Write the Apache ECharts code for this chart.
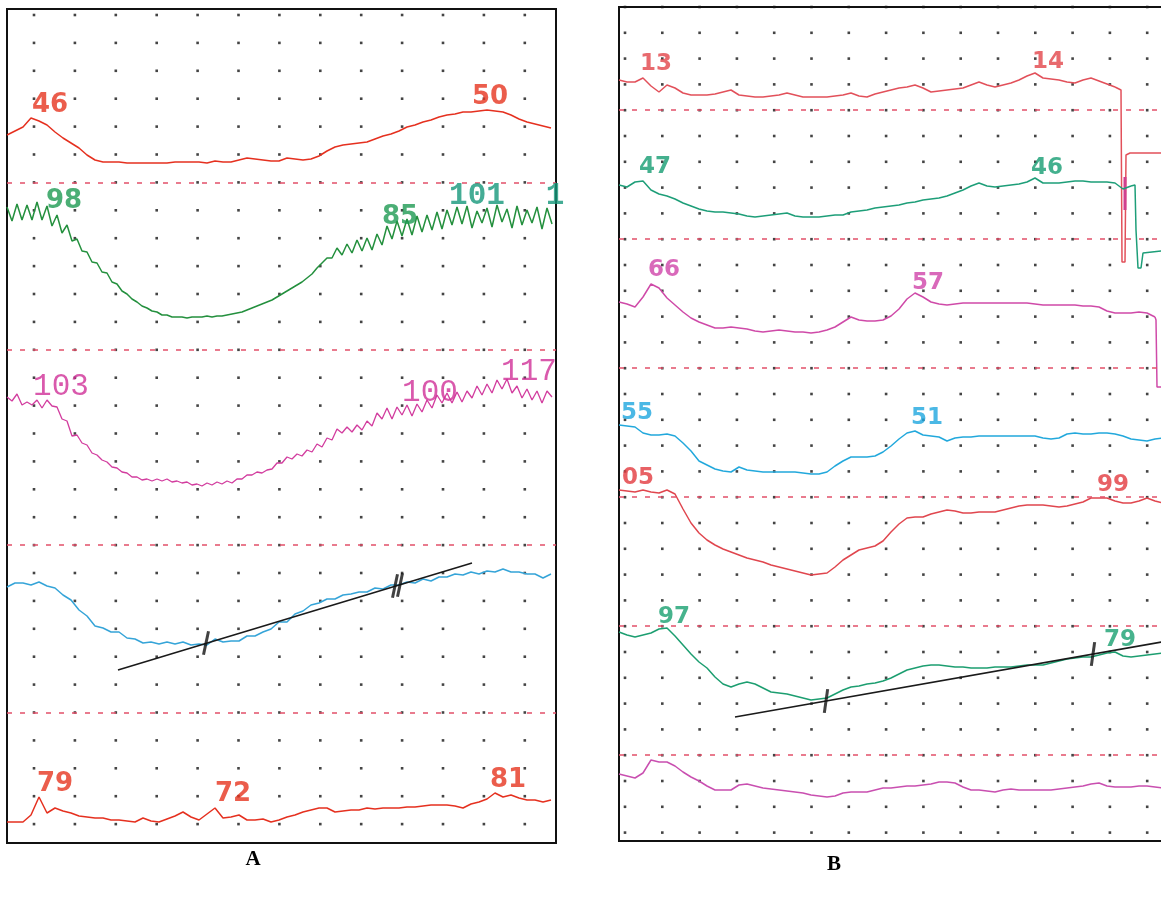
<!DOCTYPE html>
<html>
<head>
<meta charset="utf-8">
<script src="https://cdn.jsdelivr.net/npm/echarts/dist/echarts.min.js"></script>
<style>
  html, body { margin: 0; padding: 0; background: #ffffff; }
  #chart { width: 1161px; height: 900px; }
</style>
</head>
<body>
<div id="chart"></div>
<script>
// ---- Recording A : trace levels (strip units, measured down from the strip top) ----
const STEP_A = 8;      // sample spacing for the smooth channels
const STEP_A_FAST = 5; // sample spacing for the fast (oscillating) channels

const a1Red = [126,122,118,109,112,116,123,129,134,139,146,151,153,153,153,154,154,154,154,154,
  154,153,153,153,153,154,152,153,153,151,149,150,151,152,152,149,150,151,150,147,
  142,138,136,135,134,133,130,127,125,122,118,116,113,111,108,106,105,103,103,102,
  101,102,103,106,110,113,115,117,119];

const a2Green = [198,212,195,211,196,211,193,211,197,217,206,224,216,232,230,242,243,253,254,263,
  264,273,275,282,285,290,293,297,299,302,303,306,306,308,308,308,309,308,308,308,
  307,308,307,307,306,305,304,303,301,299,297,295,293,291,288,285,282,279,276,273,
  269,265,259,254,249,249,239,246,235,244,231,242,229,241,225,236,217,230,212,227,
  210,226,207,223,206,221,203,220,201,216,198,215,197,219,202,214,199,218,196,213,
  200,219,197,216,201,214,198,220,199,215];

const a3Magenta = [388,392,385,396,393,396,391,399,391,397,398,410,412,427,426,434,436,444,446,451,
  453,458,459,463,464,468,468,471,470,472,470,472,470,473,472,474,473,476,475,477,
  474,476,473,475,472,474,470,470,466,466,463,464,461,460,454,454,448,450,445,447,
  441,443,435,438,429,431,420,424,418,423,416,421,412,417,404,410,399,410,398,406,
  396,407,395,403,391,399,386,394,384,394,383,393,382,389,377,386,375,384,371,380,
  370,384,377,389,380,391,382,394,382,388];

const a4Blue = [578,574,574,576,573,577,579,586,591,601,607,617,619,623,623,629,630,634,633,635,
  633,635,633,636,635,636,630,633,632,632,627,627,623,620,613,613,605,602,596,594,
  590,590,586,585,583,583,579,580,576,576,573,574,570,572,568,568,565,566,563,565,
  562,563,560,563,563,565,565,569,565];

const a5Red = [813,813,813,806,788,804,799,802,804,807,808,809,809,811,811,812,813,809,812,813,
  810,807,803,808,811,805,799,809,808,806,811,811,810,813,811,808,806,803,801,799,
  799,803,802,801,801,799,800,799,799,799,798,798,797,796,796,796,797,799,795,793,
  790,784,788,786,789,791,791,793,791];

const aFitLine = [[111, 661], [465, 554]];
const aFitTicks = [[199, 634], [388, 577], [393, 576]];

// ---- Recording B ----
const STEP_B = 8;

const b1Red = [73,75,75,71,79,85,78,81,86,88,88,88,87,85,83,88,89,90,90,89,
  88,86,88,90,90,90,90,89,88,86,89,90,87,85,83,81,80,78,81,85,
  84,83,82,81,78,75,78,80,78,76,73,69,66,71,72,73,75,76,73,71,
  74,77,80];
const b1Tail = [[496,80],[502,83],[503,255],[506,255],[507,148],[511,146],[560,146]];
const b1Spike = [[506,170],[506,203]];

const b2Green = [178,180,175,174,183,187,189,192,196,199,202,204,205,205,206,207,209,210,209,208,
  207,206,209,210,210,210,209,208,208,205,204,203,201,200,199,198,196,195,193,192,
  191,189,186,183,179,176,179,180,179,178,177,175,171,176,176,176,175,174,174,175,
  175,175,176,182,179];
const b2Tail = [[512,179],[516,178],[517,223],[519,261],[522,261],[524,246],[542,244],[560,244]];

const b3Magenta = [295,297,300,290,277,281,291,298,305,311,315,318,321,321,320,321,322,324,325,324,
  323,324,325,325,326,325,323,320,315,310,313,314,314,313,309,302,292,286,290,295,
  297,298,297,296,296,296,296,296,296,296,296,296,297,298,298,298,298,298,299,299,
  300,304,306,306,306,305,306,310];
const b3Tail = [[536,310],[537,313],[538,380],[560,380]];

const b4Cyan = [418,419,420,426,428,428,427,429,436,444,454,458,462,464,465,460,463,464,465,465,
  465,465,465,466,467,467,465,459,454,450,450,450,449,445,439,432,426,424,428,429,
  430,434,431,430,430,429,429,429,429,429,429,429,429,431,432,431,427,426,427,427,
  426,426,427,429,432,433,434,432,431];

const b5Red = [483,484,485,483,485,486,483,487,502,516,526,533,538,542,545,548,551,553,555,558,
  560,562,564,566,568,567,566,560,553,548,543,541,539,534,525,517,511,510,510,507,
  505,503,504,506,506,505,505,505,503,501,499,498,498,498,499,500,499,497,495,491,
  491,491,494,496,496,494,491,494,496];

const b6Green = [625,628,630,628,626,622,621,629,638,647,655,661,670,677,680,677,675,677,681,685,
  686,687,689,691,693,692,691,687,683,680,679,677,676,674,671,667,663,661,659,658,
  658,659,660,660,661,661,661,660,660,660,659,658,658,658,656,654,652,651,650,650,
  648,646,645,649,650,649,648,647,646];

const b7Magenta = [767,769,771,766,753,755,755,759,765,770,774,779,783,783,783,778,777,779,781,782,
  783,784,785,786,788,789,790,789,786,785,785,785,783,781,781,780,779,779,778,777,
  775,775,776,780,783,783,784,785,783,782,783,783,783,783,783,782,781,780,779,777,
  776,779,780,780,780,779,779,780,781];

const bFitLine = [[116, 710], [560, 632]];
const bFitTicks = [[207, 694], [474, 647]];

// Annotations: [text, time, level, style]
const labelsA = [
  ['46', 43, 96, 'redSans'], ['50', 483, 88, 'redSans'],
  ['98', 57, 192, 'greenSans'], ['85', 393, 208, 'greenSans'],
  ['101', 470, 187, 'tealMono'], ['10', 548, 187, 'tealMonoCut'],
  ['103', 54, 378, 'magentaMono'], ['100', 423, 384, 'magentaMono'], ['117', 522, 363, 'magentaMono'],
  ['79', 48, 775, 'redSans'], ['72', 226, 785, 'redSans'], ['81', 501, 771, 'redSans']
];
const labelsB = [
  ['13', 37, 57, 'bRed'], ['14', 429, 55, 'bRed'],
  ['47', 36, 160, 'bGreen'], ['46', 428, 161, 'bGreen'],
  ['66', 45, 263, 'bMagenta'], ['57', 309, 276, 'bMagenta'],
  ['55', 18, 406, 'bCyan'], ['51', 308, 411, 'bCyan'],
  ['05', 19, 471, 'bRed2'], ['99', 494, 478, 'bRed2'],
  ['97', 55, 610, 'bGreen2'], ['79', 501, 633, 'bGreen2']
];

// ---- Chart-paper layout ----
const A_W = 549, A_H = 834, B_W = 560, B_H = 834;
const A_DOT = { x0: 27, dx: 40.9, nx: 13, y0: 6, dy: 27.9, ny: 30 };
const B_DOT = { x0: 6, dx: 37.3, nx: 15, y0: 0, dy: 25.8, ny: 33 };
const A_DASH_ROWS = [6, 12, 19, 25];
const B_DASH_ROWS = [4, 9, 14, 19, 24, 29];

const labelStyles = {
  redSans:     { color: '#e6341f', fontFamily: 'DejaVu Sans', fontWeight: 'bold', fontSize: 26 },
  greenSans:   { color: '#1e9a52', fontFamily: 'DejaVu Sans', fontWeight: 'bold', fontSize: 26 },
  tealMono:    { color: '#15977a', fontFamily: 'Liberation Mono', fontWeight: 'bold', fontSize: 31 },
  tealMonoCut: { color: '#15977a', fontFamily: 'Liberation Mono', fontWeight: 'bold', fontSize: 31,
                 width: 20, overflow: 'truncate', ellipsis: '' },
  magentaMono: { color: '#cf2f97', fontFamily: 'Liberation Mono', fontWeight: 'normal', fontSize: 31 },
  bRed:        { color: '#e2454a', fontFamily: 'DejaVu Sans', fontWeight: 'bold', fontSize: 23 },
  bGreen:      { color: '#159c72', fontFamily: 'DejaVu Sans', fontWeight: 'bold', fontSize: 23 },
  bMagenta:    { color: '#d043a9', fontFamily: 'DejaVu Sans', fontWeight: 'bold', fontSize: 23 },
  bCyan:       { color: '#1ea6df', fontFamily: 'DejaVu Sans', fontWeight: 'bold', fontSize: 23 },
  bRed2:       { color: '#e23a3e', fontFamily: 'DejaVu Sans', fontWeight: 'bold', fontSize: 23 },
  bGreen2:     { color: '#19a070', fontFamily: 'DejaVu Sans', fontWeight: 'bold', fontSize: 23 }
};

function sampled(values, step) {
  return values.map((v, i) => [i * step, v]);
}

function trace(data, g, color, width) {
  return {
    type: 'line', xAxisIndex: g, yAxisIndex: g, data: data,
    symbol: 'none', showSymbol: false, silent: true, clip: true,
    lineStyle: { color: color, width: width || 1.5 }, z: 4
  };
}

function paper(g, spec, dashRows) {
  const pts = [];
  for (let r = 0; r < spec.ny; r++) {
    for (let c = 0; c < spec.nx; c++) {
      pts.push([spec.x0 + c * spec.dx, spec.y0 + r * spec.dy]);
    }
  }
  return {
    type: 'scatter', xAxisIndex: g, yAxisIndex: g, data: pts,
    symbol: 'rect', symbolSize: 2.6, silent: true, z: 2,
    itemStyle: { color: '#151515' },
    markLine: {
      silent: true, symbol: ['none', 'none'], animation: false,
      label: { show: false },
      lineStyle: { color: '#e2506a', type: [5, 8], width: 1.5 },
      data: dashRows.map(r => ({ yAxis: spec.y0 + r * spec.dy }))
    }
  };
}

function labels(g, list) {
  return {
    type: 'scatter', xAxisIndex: g, yAxisIndex: g, symbolSize: 0, silent: true, z: 6,
    data: list.map(([text, t, lvl, style]) => ({
      value: [t, lvl],
      label: Object.assign({ show: true, position: 'inside', formatter: text }, labelStyles[style])
    }))
  };
}

function fitTicks(g, data, rotate) {
  return {
    type: 'scatter', xAxisIndex: g, yAxisIndex: g, data: data, silent: true, z: 7,
    symbol: 'rect', symbolSize: [3, 24], symbolRotate: rotate,
    itemStyle: { color: '#111' }
  };
}

const chart = echarts.init(document.getElementById('chart'), null, { renderer: 'canvas' });

chart.setOption({
  animation: false,
  backgroundColor: '#ffffff',
  title: [
    { text: 'A', left: 248, top: 844, textAlign: 'center',
      textStyle: { fontFamily: 'Liberation Serif', fontWeight: 'bold', fontSize: 21, color: '#000' } },
    { text: 'B', left: 829, top: 849, textAlign: 'center',
      textStyle: { fontFamily: 'Liberation Serif', fontWeight: 'bold', fontSize: 21, color: '#000' } }
  ],
  grid: [
    { left: 7, top: 9, width: A_W, height: A_H, show: true, borderColor: '#111', borderWidth: 2,
      backgroundColor: '#fff', containLabel: false, outerBoundsMode: 'none' },
    { left: 619, top: 7, width: B_W, height: B_H, show: true, borderColor: '#111', borderWidth: 2,
      backgroundColor: '#fff', containLabel: false, outerBoundsMode: 'none' }
  ],
  xAxis: [
    { gridIndex: 0, type: 'value', min: 0, max: A_W, show: false },
    { gridIndex: 1, type: 'value', min: 0, max: B_W, show: false }
  ],
  yAxis: [
    { gridIndex: 0, type: 'value', min: 0, max: A_H, inverse: true, show: false },
    { gridIndex: 1, type: 'value', min: 0, max: B_H, inverse: true, show: false }
  ],
  series: [
    paper(0, A_DOT, A_DASH_ROWS),
    paper(1, B_DOT, B_DASH_ROWS),

    trace(sampled(a1Red, STEP_A), 0, '#e5301f'),
    trace(sampled(a2Green, STEP_A_FAST), 0, '#24903e'),
    trace(sampled(a3Magenta, STEP_A_FAST), 0, '#d23c9e', 1.3),
    trace(sampled(a4Blue, STEP_A), 0, '#35a4d8'),
    trace(sampled(a5Red, STEP_A), 0, '#e5301f'),
    trace(aFitLine, 0, '#1a1a1a', 1.6),
    fitTicks(0, aFitTicks, -12),

    trace(sampled(b1Red, STEP_B), 1, '#e2505a'),
    trace(b1Tail, 1, '#e2505a'),
    trace(b1Spike, 1, '#d0408f', 3),
    trace(sampled(b2Green, STEP_B), 1, '#1d9e78'),
    trace(b2Tail, 1, '#1d9e78'),
    trace(sampled(b3Magenta, STEP_B), 1, '#cf4aa8'),
    trace(b3Tail, 1, '#cf4aa8'),
    trace(sampled(b4Cyan, STEP_B), 1, '#22a8dc'),
    trace(sampled(b5Red, STEP_B), 1, '#e0464e'),
    trace(sampled(b6Green, STEP_B), 1, '#1c9e70'),
    trace(sampled(b7Magenta, STEP_B), 1, '#c94fb0'),
    trace(bFitLine, 1, '#1a1a1a', 1.6),
    fitTicks(1, bFitTicks, -8),

    labels(0, labelsA),
    labels(1, labelsB)
  ]
});
</script>
</body>
</html>
